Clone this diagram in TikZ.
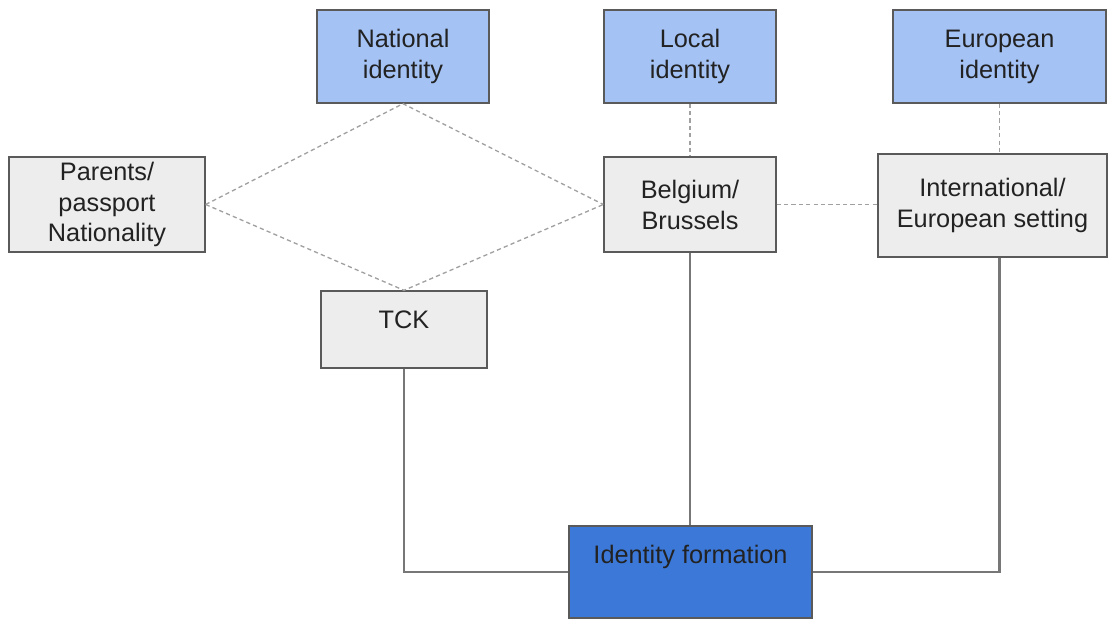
\documentclass[tikz,border=0pt]{standalone}
\usepackage{fontspec}
\setmainfont{Liberation Sans}
\usetikzlibrary{positioning}

\definecolor{idblue}{HTML}{A4C2F4}
\definecolor{boxgray}{HTML}{EDEDED}
\definecolor{formblue}{HTML}{3C78D8}
\definecolor{edgegray}{HTML}{5A5A5A}
\definecolor{linegray}{HTML}{777777}
\definecolor{dashgray}{HTML}{A0A0A0}
\definecolor{textdark}{HTML}{222222}

\begin{document}
\begin{tikzpicture}[x=0.02cm, y=-0.02cm,
  every node/.style={font=\fontsize{14.4}{17.6}\selectfont, text=textdark, align=center},
  box/.style={draw=edgegray, line width=0.8pt, inner sep=0pt},
  idbox/.style={box, fill=idblue, minimum height=1.86cm},
  infbox/.style={box, fill=boxgray},
  link/.style={dashgray, line width=0.75pt, dash pattern=on 2.4pt off 1.8pt},
  wire/.style={linegray, line width=1.2pt}]

\useasboundingbox (0,0) rectangle (1109,620);

%identity boxes on top
\node[idbox, minimum width=3.44cm] (natid) at (403,56.5) {National\\identity};
\node[idbox, minimum width=3.44cm] (locid) at (690,56.5) {Local\\identity};
\node[idbox, minimum width=4.26cm] (eurid) at (999.5,56.5) {European\\identity};

%influences
\node[infbox, minimum width=3.92cm, minimum height=1.9cm] (parents) at (107,204.5) {Parents/\\passport\\Nationality};
\node[infbox, minimum width=3.44cm, minimum height=1.9cm] (belgium) at (690,204.5) {Belgium/\\Brussels};
\node[infbox, minimum width=4.58cm, minimum height=2.06cm] (intl) at (992.5,205.5) {International/\\European setting};
\node[infbox, minimum width=3.32cm, minimum height=1.54cm] (tck) at (404,329.5) {};
\node[anchor=base] (tcklabel) at ([yshift=-0.76cm]tck.north) {TCK};

\node[box, fill=formblue, minimum width=4.86cm, minimum height=1.84cm] (idform) at (690.5,572) {};
\node[anchor=base] (idformlabel) at ([yshift=-0.76cm]idform.north) {Identity formation};

%dashed relations
\draw[link] (parents.east) -- (natid.south) -- (belgium.west);
\draw[link] (parents.east) -- (tck.north) -- (belgium.west);
\draw[link] (locid.south) -- (belgium.north);
\draw[link] (belgium.east) -- (belgium.east -| intl.west);
\draw[link] (eurid.south) -- (eurid.south |- intl.north);

%solid links to identity formation
\draw[wire] (tck.south) |- (idform.west);
\draw[wire] (belgium.south) -- (belgium.south |- idform.north);
\draw[wire] (eurid.south |- intl.south) |- (idform.east);

\end{tikzpicture}
\end{document}
